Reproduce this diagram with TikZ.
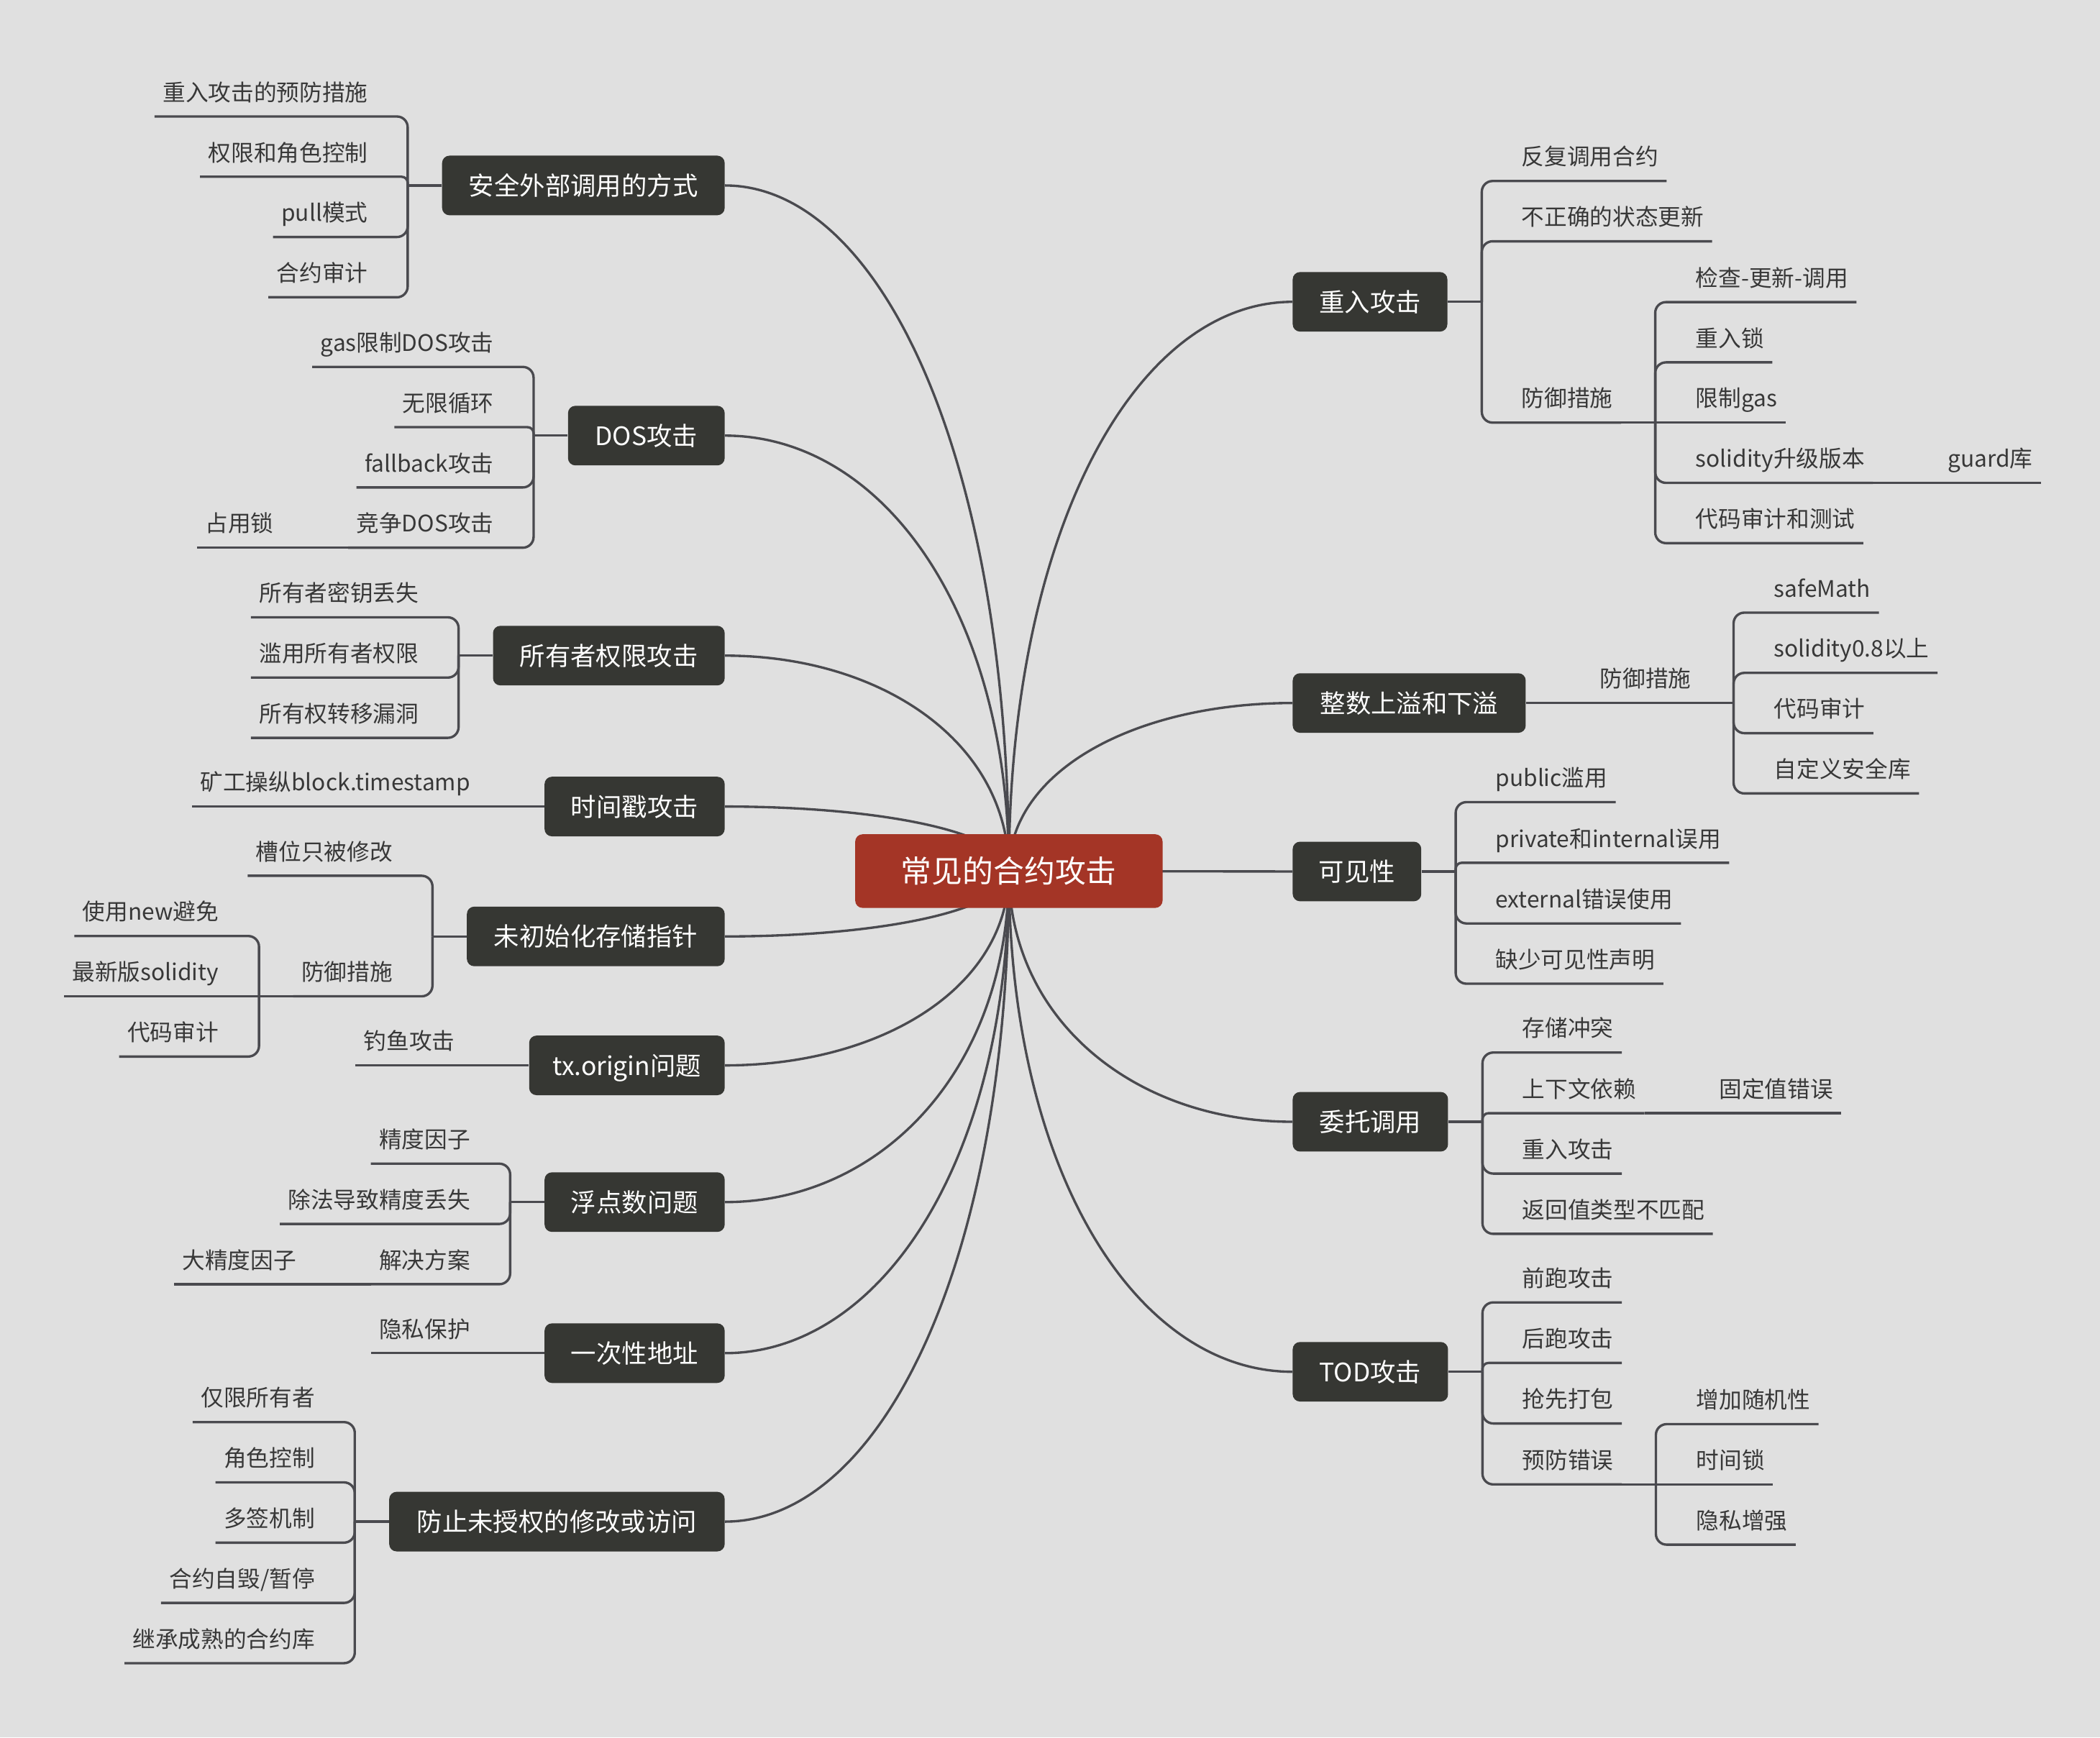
\documentclass[tikz,border=0pt]{standalone}
\usepackage{fontspec}
\setmainfont{Noto Sans CJK SC}
\usetikzlibrary{backgrounds}

\definecolor{canvas}{HTML}{E0E0E0}
\definecolor{topicbg}{HTML}{363733}
\definecolor{rootbg}{HTML}{A43526}
\definecolor{wire}{HTML}{4A4A4F}
\definecolor{leaftext}{HTML}{383838}

\tikzset{
  rootbox/.style={fill=rootbg, text=white, rounded corners=5.5pt,
    minimum width=229.5pt, minimum height=55pt, inner sep=0pt,
    font=\fontsize{23}{27}\selectfont, text height=19.5pt, text depth=2.1pt},
  topic/.style={fill=topicbg, text=white, rounded corners=5.5pt,
    minimum height=44.5pt, inner sep=0pt,
    font=\fontsize{19}{23}\selectfont, text height=16.9pt, text depth=2.5pt},
  lefttopic/.style={topic, anchor=east, minimum width=#1},
  righttopic/.style={topic, anchor=west, minimum width=#1},
  leaf/.style={text=leaftext, inner xsep=6pt, inner ysep=0pt,
    font=\fontsize{17}{20}\selectfont, text height=16pt, text depth=11.5pt},
  lleaf/.style={leaf, anchor=south east},
  rleaf/.style={leaf, anchor=south west},
  trunk/.style={draw=wire, line width=1.8pt},
  branch/.style={draw=wire, line width=1.8pt, rounded corners=8pt},
  tight/.style={rounded corners=4.5pt},
}

\begin{document}
\begin{tikzpicture}[x=1pt,y=-1pt]
\useasboundingbox (0,0) rectangle (1568,1297.4);

% ---------- centre ----------
\node[rootbox] (root) at (753.3,650.5) {常见的合约攻击};

% ---------- topics, left ----------
\node[lefttopic=211pt]   (a1) at (541.3,138.5)  {安全外部调用的方式};
\node[lefttopic=117pt]   (a2) at (541.3,325.3)  {DOS攻击};
\node[lefttopic=173pt]   (a3) at (541.3,489.6)  {所有者权限攻击};
\node[lefttopic=134.5pt] (a4) at (541.3,602.3)  {时间戳攻击};
\node[lefttopic=192.5pt] (a5) at (541.3,699.3)  {未初始化存储指针};
\node[lefttopic=146pt]   (a6) at (541.3,795.6)  {tx.origin问题};
\node[lefttopic=134.5pt] (a7) at (541.3,897.7)  {浮点数问题};
\node[lefttopic=134.5pt] (a8) at (541.3,1010.5) {一次性地址};
\node[lefttopic=250.5pt] (a9) at (541.3,1136.3) {防止未授权的修改或访问};

% ---------- topics, right ----------
\node[righttopic=115.5pt] (b1) at (965,225.4)  {重入攻击};
\node[righttopic=174pt]   (b2) at (965,525)    {整数上溢和下溢};
\node[righttopic=96pt]    (b3) at (965,650.8)  {可见性};
\node[righttopic=116pt]   (b4) at (965,837.7)  {委托调用};
\node[righttopic=116pt]   (b5) at (965,1024.4) {TOD攻击};

% ---------- spines ----------
\coordinate (s1) at ([xshift=-25.5pt]a1.west);
\coordinate (s2) at ([xshift=-25.5pt]a2.west);
\coordinate (s3) at ([xshift=-25.5pt]a3.west);
\coordinate (s5) at ([xshift=-25.5pt]a5.west);
\coordinate (s7) at ([xshift=-25.5pt]a7.west);
\coordinate (s9) at ([xshift=-25.5pt]a9.west);
\coordinate (r1) at ([xshift=25.5pt]b1.east);
\coordinate (r3) at ([xshift=25.5pt]b3.east);
\coordinate (r4) at ([xshift=25.5pt]b4.east);
\coordinate (r5) at ([xshift=25.5pt]b5.east);

% ---------- leaves, left ----------
\node[lleaf] (a1c1) at (280.8,87)  {重入攻击的预防措施};
\node[lleaf] (a1c2) at (280.8,132) {权限和角色控制};
\node[lleaf] (a1c3) at (280.8,177) {pull模式};
\node[lleaf] (a1c4) at (280.8,222) {合约审计};

\node[lleaf] (a2c1) at (374.8,274) {gas限制DOS攻击};
\node[lleaf] (a2c2) at (374.8,319) {无限循环};
\node[lleaf] (a2c3) at (374.8,364) {fallback攻击};
\node[lleaf] (a2c4) at (374.8,409) {竞争DOS攻击};
\node[lleaf] (a2c4a) at ([xshift=-49.5pt]a2c4.south west) {占用锁};

\node[lleaf] (a3c1) at (318.8,461) {所有者密钥丢失};
\node[lleaf] (a3c2) at (318.8,506) {滥用所有者权限};
\node[lleaf] (a3c3) at (318.8,551) {所有权转移漏洞};

\node[lleaf] (a4c1) at (357.3,602.3) {矿工操纵block.timestamp};

\node[lleaf] (a5c1) at (299.3,654) {槽位只被修改};
\node[lleaf] (a5c2) at (299.3,744) {防御措施};
\coordinate (t5) at ([xshift=-25.5pt]a5c2.south west);
\node[lleaf] (a5c2a) at ([xshift=-24pt,yshift=45pt]t5)  {使用new避免};
\node[lleaf] (a5c2b) at ([xshift=-24pt]t5)              {最新版solidity};
\node[lleaf] (a5c2c) at ([xshift=-24pt,yshift=-45pt]t5) {代码审计};

\node[lleaf] (a6c1) at (345.8,795.6) {钓鱼攻击};

\node[lleaf] (a7c1) at (357.3,869) {精度因子};
\node[lleaf] (a7c2) at (357.3,914) {除法导致精度丢失};
\node[lleaf] (a7c3) at (357.3,959) {解决方案};
\node[lleaf] (a7c3a) at ([xshift=-49.5pt]a7c3.south west) {大精度因子};

\node[lleaf] (a8c1) at (357.3,1010.5) {隐私保护};

\node[lleaf] (a9c1) at (241.3,1062) {仅限所有者};
\node[lleaf] (a9c2) at (241.3,1107) {角色控制};
\node[lleaf] (a9c3) at (241.3,1152) {多签机制};
\node[lleaf] (a9c4) at (241.3,1197) {合约自毁/暂停};
\node[lleaf] (a9c5) at (241.3,1242) {继承成熟的合约库};

% ---------- leaves, right ----------
\node[rleaf] (b1c1) at (1130,135.2) {反复调用合约};
\node[rleaf] (b1c2) at (1130,180.2) {不正确的状态更新};
\node[rleaf] (b1c3) at (1130,315.6) {防御措施};
\coordinate (u1) at ([xshift=25.5pt]b1c3.south east);
\node[rleaf] (b1c3a) at ([xshift=24pt,yshift=90pt]u1)  {检查-更新-调用};
\node[rleaf] (b1c3b) at ([xshift=24pt,yshift=45pt]u1)  {重入锁};
\node[rleaf] (b1c3c) at ([xshift=24pt]u1)              {限制gas};
\node[rleaf] (b1c3d) at ([xshift=24pt,yshift=-45pt]u1) {solidity升级版本};
\node[rleaf] (b1c3e) at ([xshift=24pt,yshift=-90pt]u1) {代码审计和测试};
\node[rleaf] (b1c3d1) at ([xshift=49.5pt]b1c3d.south east) {guard库};

\node[rleaf] (b2c1) at (1188.5,525) {防御措施};
\coordinate (u2) at ([xshift=25.5pt]b2c1.south east);
\node[rleaf] (b2c1a) at ([xshift=24pt,yshift=67.5pt]u2)  {safeMath};
\node[rleaf] (b2c1b) at ([xshift=24pt,yshift=22.5pt]u2)  {solidity0.8以上};
\node[rleaf] (b2c1c) at ([xshift=24pt,yshift=-22.5pt]u2) {代码审计};
\node[rleaf] (b2c1d) at ([xshift=24pt,yshift=-67.5pt]u2) {自定义安全库};

\node[rleaf] (b3c1) at (1110.5,599)   {public滥用};
\node[rleaf] (b3c2) at (1110.5,644.3) {private和internal误用};
\node[rleaf] (b3c3) at (1110.5,689.6) {external错误使用};
\node[rleaf] (b3c4) at (1110.5,734.6) {缺少可见性声明};

\node[rleaf] (b4c1) at (1130.5,786)   {存储冲突};
\node[rleaf] (b4c2) at (1130.5,831.3) {上下文依赖};
\node[rleaf] (b4c2a) at ([xshift=49.5pt]b4c2.south east) {固定值错误};
\node[rleaf] (b4c3) at (1130.5,876.4) {重入攻击};
\node[rleaf] (b4c4) at (1130.5,921.4) {返回值类型不匹配};

\node[rleaf] (b5c1) at (1130.5,972.6)  {前跑攻击};
\node[rleaf] (b5c2) at (1130.5,1017.8) {后跑攻击};
\node[rleaf] (b5c3) at (1130.5,1063)   {抢先打包};
\node[rleaf] (b5c4) at (1130.5,1108.5) {预防错误};
\coordinate (u5) at ([xshift=25.5pt]b5c4.south east);
\node[rleaf] (b5c4a) at ([xshift=24pt,yshift=45pt]u5)  {增加随机性};
\node[rleaf] (b5c4b) at ([xshift=24pt]u5)              {时间锁};
\node[rleaf] (b5c4c) at ([xshift=24pt,yshift=-45pt]u5) {隐私增强};

% ---------- connectors (under the boxes) ----------
\begin{pgfonlayer}{background}
\fill[canvas] (0,0) rectangle (1568,1297.4);

% centre to topics
\draw[trunk] (root.center) .. controls +(0,-307.2) and +(116.6,0) .. (a1.east);
\draw[trunk] (root.center) .. controls +(0,-195.1) and +(116.6,0) .. (a2.east);
\draw[trunk] (root.center) .. controls +(0,-96.5)  and +(116.6,0) .. (a3.east);
\draw[trunk] (root.center) .. controls +(0,-28.9)  and +(116.6,0) .. (a4.east);
\draw[trunk] (root.center) .. controls +(0,29.3)   and +(116.6,0) .. (a5.east);
\draw[trunk] (root.center) .. controls +(0,87.1)   and +(116.6,0) .. (a6.east);
\draw[trunk] (root.center) .. controls +(0,148.3)  and +(116.6,0) .. (a7.east);
\draw[trunk] (root.center) .. controls +(0,216)    and +(116.6,0) .. (a8.east);
\draw[trunk] (root.center) .. controls +(0,291.5)  and +(116.6,0) .. (a9.east);
\draw[trunk] (root.center) .. controls +(0,-255.1) and +(-116.6,0) .. (b1.west);
\draw[trunk] (root.center) .. controls +(0,-75.3)  and +(-116.6,0) .. (b2.west);
\draw[trunk] (root.center) -- (b3.west);
\draw[trunk] (root.center) .. controls +(0,112.3)  and +(-116.6,0) .. (b4.west);
\draw[trunk] (root.center) .. controls +(0,224.3)  and +(-116.6,0) .. (b5.west);

% left branches
\draw[branch] (a1.west) -- (s1);
\draw[branch] (s1) |- (a1c1.south west);
\draw[branch,tight] (s1) |- (a1c2.south west);
\draw[branch] (s1) |- (a1c3.south west);
\draw[branch] (s1) |- (a1c4.south west);

\draw[branch] (a2.west) -- (s2);
\draw[branch] (s2) |- (a2c1.south west);
\draw[branch,tight] (s2) |- (a2c2.south west);
\draw[branch] (s2) |- (a2c3.south west);
\draw[branch] (s2) |- (a2c4.south west);
\draw[branch] (a2c4.south west) -- (a2c4a.south west);

\draw[branch] (a3.west) -- (s3);
\draw[branch] (s3) |- (a3c1.south west);
\draw[branch] (s3) |- (a3c2.south west);
\draw[branch] (s3) |- (a3c3.south west);

\draw[branch] (a4.west) -- (a4c1.south west);

\draw[branch] (a5.west) -- (s5);
\draw[branch] (s5) |- (a5c1.south west);
\draw[branch] (s5) |- (a5c2.south west);
\draw[branch] (a5c2.south west) -- (t5);
\draw[branch] (t5) |- (a5c2a.south west);
\draw[branch] (t5) -- (a5c2b.south west);
\draw[branch] (t5) |- (a5c2c.south west);

\draw[branch] (a6.west) -- (a6c1.south west);

\draw[branch] (a7.west) -- (s7);
\draw[branch] (s7) |- (a7c1.south west);
\draw[branch] (s7) |- (a7c2.south west);
\draw[branch] (s7) |- (a7c3.south west);
\draw[branch] (a7c3.south west) -- (a7c3a.south west);

\draw[branch] (a8.west) -- (a8c1.south west);

\draw[branch] (a9.west) -- (s9);
\draw[branch] (s9) |- (a9c1.south west);
\draw[branch] (s9) |- (a9c2.south west);
\draw[branch] (s9) |- (a9c3.south west);
\draw[branch] (s9) |- (a9c4.south west);
\draw[branch] (s9) |- (a9c5.south west);

% right branches
\draw[branch] (b1.east) -- (r1);
\draw[branch] (r1) |- (b1c1.south east);
\draw[branch] (r1) |- (b1c2.south east);
\draw[branch] (r1) |- (b1c3.south east);
\draw[branch] (b1c3.south east) -- (u1);
\draw[branch] (u1) |- (b1c3a.south east);
\draw[branch] (u1) |- (b1c3b.south east);
\draw[branch] (u1) -- (b1c3c.south east);
\draw[branch] (u1) |- (b1c3d.south east);
\draw[branch] (u1) |- (b1c3e.south east);
\draw[branch] (b1c3d.south east) -- (b1c3d1.south east);

\draw[branch] (b2.east) -- (b2c1.south east);
\draw[branch] (b2c1.south east) -- (u2);
\draw[branch] (u2) |- (b2c1a.south east);
\draw[branch] (u2) |- (b2c1b.south east);
\draw[branch] (u2) |- (b2c1c.south east);
\draw[branch] (u2) |- (b2c1d.south east);

\draw[branch] (b3.east) -- (r3);
\draw[branch] (r3) |- (b3c1.south east);
\draw[branch,tight] (r3) |- (b3c2.south east);
\draw[branch] (r3) |- (b3c3.south east);
\draw[branch] (r3) |- (b3c4.south east);

\draw[branch] (b4.east) -- (r4);
\draw[branch] (r4) |- (b4c1.south east);
\draw[branch,tight] (r4) |- (b4c2.south east);
\draw[branch] (r4) |- (b4c3.south east);
\draw[branch] (r4) |- (b4c4.south east);
\draw[branch] (b4c2.south east) -- (b4c2a.south east);

\draw[branch] (b5.east) -- (r5);
\draw[branch] (r5) |- (b5c1.south east);
\draw[branch,tight] (r5) |- (b5c2.south east);
\draw[branch] (r5) |- (b5c3.south east);
\draw[branch] (r5) |- (b5c4.south east);
\draw[branch] (b5c4.south east) -- (u5);
\draw[branch] (u5) |- (b5c4a.south east);
\draw[branch] (u5) -- (b5c4b.south east);
\draw[branch] (u5) |- (b5c4c.south east);
\end{pgfonlayer}
\end{tikzpicture}
\end{document}
